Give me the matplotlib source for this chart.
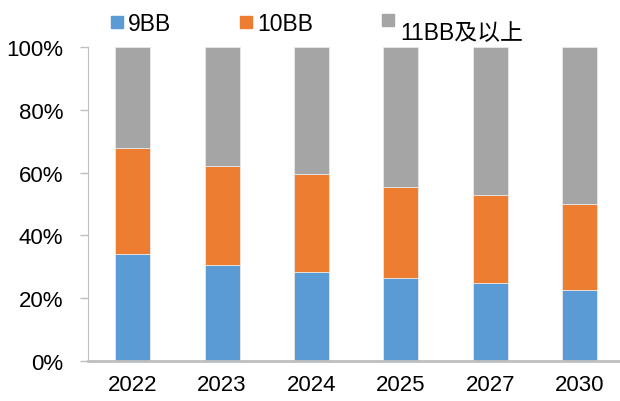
import matplotlib as mpl
mpl.use('Agg')
import matplotlib.pyplot as plt
import matplotlib.patches as mpatches
import numpy as np

plt.rcParams['font.family'] = ['Liberation Sans', 'Noto Sans CJK SC', 'DejaVu Sans']

years = ['2022', '2023', '2024', '2025', '2027', '2030']
share_9bb = [34.0, 30.5, 28.5, 26.5, 25.0, 22.5]
share_10bb = [34.0, 31.5, 31.0, 29.0, 28.0, 27.5]
share_11bb = [32.0, 38.0, 40.5, 44.5, 47.0, 50.0]
ytick_vals = [0, 20, 40, 60, 80, 100]

colors = ['#5B9BD5', '#ED7D31', '#A5A5A5']
names = ['9BB', '10BB', '11BB及以上']

W, H = 620, 402
fig = plt.figure(figsize=(W / 100, H / 100), dpi=100)
ax = fig.add_axes([0.142, 0.0995, 0.865, 0.781])

x = np.arange(len(years))
w = 0.39
bottom = np.zeros(len(years))
for vals, c in zip([share_9bb, share_10bb, share_11bb], colors):
    ax.bar(x, vals, w, bottom=bottom, color=c, edgecolor='#E8E8E8', linewidth=0.6)
    bottom += np.array(vals)

ax.set_xlim(-0.5, len(years) - 0.5)
ax.set_ylim(0, 100)
ax.set_xticks(x)
ax.set_xticklabels(years)
ax.set_yticks(ytick_vals)
ax.set_yticklabels([str(v) + '%' for v in ytick_vals])
ax.tick_params(axis='x', length=0, labelsize=16, pad=9)
ax.tick_params(axis='y', length=6, width=1, color='#BFBFBF', labelsize=16, pad=12)

for s in ['top', 'right']:
    ax.spines[s].set_visible(False)
ax.spines['left'].set_color('#BFBFBF')
ax.spines['bottom'].set_color('#BFBFBF')
ax.spines['bottom'].set_linewidth(2)

#Legend drawn by hand (pixel positions), the last label sits lower
legend_pos = [(111, 29, 128, 31), (240, 29, 257, 31), (382, 27, 400, 40)]
for (mx, my, tx, ty), c, name in zip(legend_pos, colors, names):
    fig.add_artist(mpatches.Rectangle((mx / W, 1 - my / H), 12 / W, 12 / H,
                                      transform=fig.transFigure, color=c))
    fig.text(tx / W, 1 - ty / H, name, fontsize=16.5, va='baseline', ha='left')

plt.savefig('out.png', dpi=100)
plt.close()
